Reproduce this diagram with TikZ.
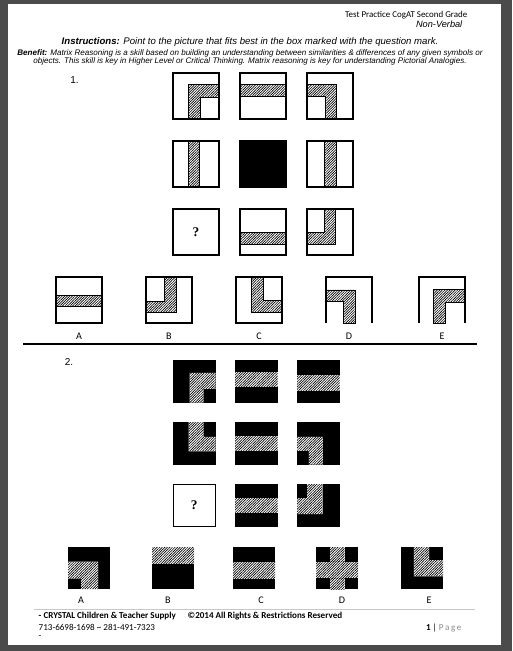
\documentclass[tikz,border=0pt]{standalone}
\usepackage{fontspec}
\setmainfont{Liberation Sans}
\newfontfamily\calibri{Carlito}
\newfontfamily\timesfont{Liberation Serif}
\usetikzlibrary{patterns.meta}
\definecolor{frame}{HTML}{4B4B4B}
\definecolor{rulegray}{HTML}{C8C8C8}
\definecolor{pagegray}{HTML}{8C8C8C}
\tikzset{
  cell/.style={draw=black,line width=0.85pt},
  hatch/.style={fill=white,postaction={pattern={Lines[angle=45,distance=1.35pt,line width=0.5pt]}}},
  hatchline/.style={hatch,draw=black,line width=0.6pt},
  optlabel/.style={font=\calibri\fontsize{7.6}{9}\selectfont},
  qmark/.style={font=\timesfont\bfseries\fontsize{10}{12}\selectfont},
  footnote/.style={anchor=west,font=\calibri\fontsize{6.8}{8}\selectfont},
}
\begin{document}
\begin{tikzpicture}[x=0.75pt,y=-0.75pt]
  \useasboundingbox (0,0) rectangle (512,651);
  \fill[frame] (0,0) rectangle (512,651);
  \fill[white] (8,4) rectangle (501,645);

  \node[anchor=east,font=\calibri\fontsize{6.7}{8}\selectfont] (header) at (472,15) {Test Practice CogAT Second Grade};
  \node[anchor=east,font=\itshape\fontsize{6.9}{8}\selectfont] (subject) at (467,24.5) {Non-Verbal};
  \node[font=\itshape\fontsize{7.2}{8}\selectfont] (instr) at (250,42) {\bfseries Instructions:\mdseries{} Point to the picture that fits best in the box marked with the question mark.};
  \node[align=center,font=\itshape\fontsize{6.05}{6}\selectfont] (benefit) at (250,57) {\bfseries Benefit:\mdseries{} Matrix Reasoning is a skill based on building an understanding between similarities \& differences of any given symbols or\\
    objects. This skill is key in Higher Level or Critical Thinking. Matrix reasoning is key for understanding Pictorial Analogies.};

  \node[font=\fontsize{7.5}{8}\selectfont] (num1) at (74.5,80) {1.};

  \begin{scope}[shift={(173,73)}]
    \draw[hatchline] (15.6,46) -- (15.6,11) -- (46,11) -- (46,24.4) -- (27.6,24.4) -- (27.6,46) -- cycle;
    \draw[cell] (0,0) rectangle (46,46);
  \end{scope}
  \begin{scope}[shift={(240,73)}]
    \draw[hatchline] (0,11.7) rectangle (46,23.5);
    \draw[cell] (0,0) rectangle (46,46);
  \end{scope}
  \begin{scope}[shift={(307,73)}]
    \draw[hatchline] (0,11.7) -- (29.4,11.7) -- (29.4,46) -- (18.4,46) -- (18.4,23.5) -- (0,23.5) -- cycle;
    \draw[cell] (0,0) rectangle (46,46);
  \end{scope}

  \begin{scope}[shift={(173,141)}]
    \draw[hatchline] (15.2,0) rectangle (26.7,46);
    \draw[cell] (0,0) rectangle (46,46);
  \end{scope}
  \begin{scope}[shift={(240,141)}]
    \draw[cell,fill=black] (0,0) rectangle (46,46);
  \end{scope}
  \begin{scope}[shift={(307,141)}]
    \draw[hatchline] (17.5,0) rectangle (29.4,46);
    \draw[cell] (0,0) rectangle (46,46);
  \end{scope}

  \begin{scope}[shift={(173,209)}]
    \draw[cell] (0,0) rectangle (46,46);
    \node[qmark] (ask1) at (23,23) {?};
  \end{scope}
  \begin{scope}[shift={(240,209)}]
    \draw[hatchline] (0,23.5) rectangle (46,35);
    \draw[cell] (0,0) rectangle (46,46);
  \end{scope}
  \begin{scope}[shift={(307,209)}]
    \draw[hatchline] (17,0) -- (28.7,0) -- (28.7,35) -- (0,35) -- (0,23.5) -- (17,23.5) -- cycle;
    \draw[cell] (0,0) rectangle (46,46);
  \end{scope}

  \begin{scope}[shift={(56,277)}]
    \draw[hatchline] (0,18.4) rectangle (46,29.4);
    \draw[cell] (0,0) rectangle (46,46);
  \end{scope}
  \begin{scope}[shift={(146,277)}]
    \draw[hatchline] (18,0) -- (30.4,0) -- (30.4,35.4) -- (0,35.4) -- (0,24.4) -- (18,24.4) -- cycle;
    \draw[cell] (0,0) rectangle (46,46);
  \end{scope}
  \begin{scope}[shift={(236,277)}]
    \draw[hatchline] (15.2,0) -- (27.6,0) -- (27.6,23.5) -- (46,23.5) -- (46,35) -- (15.2,35) -- cycle;
    \draw[cell] (0,0) rectangle (46,46);
  \end{scope}
  \begin{scope}[shift={(326,277)}]
    \draw[hatchline] (0,12.9) -- (29,12.9) -- (29,46) -- (17.5,46) -- (17.5,24.4) -- (0,24.4) -- cycle;
    \draw[cell] (0,46) -- (0,0) -- (46,0) -- (46,46);
  \end{scope}
  \begin{scope}[shift={(419,277)}]
    \draw[hatchline] (14.6,46) -- (14.6,12.7) -- (46,12.7) -- (46,25) -- (26.8,25) -- (26.8,46) -- cycle;
    \draw[cell] (0,46) -- (0,0) -- (46,0) -- (46,46);
  \end{scope}

  \node[optlabel] (a1) at (79,336) {A};
  \node[optlabel] (b1) at (169,336) {B};
  \node[optlabel] (c1) at (259,336) {C};
  \node[optlabel] (d1) at (349,336) {D};
  \node[optlabel] (e1) at (442,336) {E};

  \draw[line width=1.6pt] (23,344) -- (477,344);

  \node[font=\fontsize{7.5}{8}\selectfont] (num2) at (69,362) {2.};

  \begin{scope}[shift={(173,360)}]
    \fill[black] (0,0) rectangle (42.5,42.5);
    \fill[hatch] (16.6,42.5) -- (16.6,12.8) -- (42.5,12.8) -- (42.5,28.9) -- (30.6,28.9) -- (30.6,42.5) -- cycle;
  \end{scope}
  \begin{scope}[shift={(235,360)}]
    \fill[black] (0,0) rectangle (42.5,42.5);
    \fill[hatch] (0,11.9) rectangle (42.5,27.2);
  \end{scope}
  \begin{scope}[shift={(297,360)}]
    \fill[black] (0,0) rectangle (42.5,42.5);
    \fill[hatch] (0,14.5) rectangle (42.5,30.6);
  \end{scope}

  \begin{scope}[shift={(173,422)}]
    \fill[black] (0,0) rectangle (42.5,42.5);
    \fill[hatch] (15.7,0) -- (30.6,0) -- (30.6,14.9) -- (42.5,14.9) -- (42.5,29.3) -- (15.7,29.3) -- cycle;
  \end{scope}
  \begin{scope}[shift={(235,422)}]
    \fill[black] (0,0) rectangle (42.5,42.5);
    \fill[hatch] (0,14) rectangle (42.5,29.3);
  \end{scope}
  \begin{scope}[shift={(297,422)}]
    \fill[black] (0,0) rectangle (42.5,42.5);
    \fill[hatch] (0,14.9) -- (25.9,14.9) -- (25.9,42.5) -- (11.9,42.5) -- (11.9,28.9) -- (0,28.9) -- cycle;
  \end{scope}

  \begin{scope}[shift={(173,484)}]
    \draw[cell,line width=0.6pt] (0,0) rectangle (42.5,42.5);
    \node[qmark] (ask2) at (21.25,21.25) {?};
  \end{scope}
  \begin{scope}[shift={(235,484)}]
    \fill[black] (0,0) rectangle (42.5,42.5);
    \fill[hatch] (0,14) rectangle (42.5,28.9);
  \end{scope}
  \begin{scope}[shift={(297,484)}]
    \fill[black] (0,0) rectangle (42.5,42.5);
    \fill[hatch] (10.2,0) -- (25.5,0) -- (25.5,30.2) -- (0,30.2) -- (0,14) -- (10.2,14) -- cycle;
  \end{scope}

  \begin{scope}[shift={(68,547)}]
    \fill[black] (0,0) rectangle (42,42);
    \fill[hatch] (0,14.5) -- (30.2,14.5) -- (30.2,42) -- (13.2,42) -- (13.2,31.5) -- (0,31.5) -- cycle;
  \end{scope}
  \begin{scope}[shift={(152,547)}]
    \fill[black] (0,0) rectangle (42,42);
    \fill[hatch] (0,0) rectangle (42,16.6);
  \end{scope}
  \begin{scope}[shift={(233,547)}]
    \fill[black] (0,0) rectangle (42,42);
    \fill[hatch] (0,14.5) rectangle (42,31.9);
  \end{scope}
  \begin{scope}[shift={(316,547)}]
    \fill[black] (0,0) rectangle (42,42);
    \fill[hatch] (13.6,0) rectangle (28.5,42);
    \fill[hatch] (0,14.5) rectangle (42,31);
  \end{scope}
  \begin{scope}[shift={(401,547)}]
    \fill[black] (0,0) rectangle (42,42);
    \fill[hatch] (12.8,0) -- (28,0) -- (28,13.2) -- (42,13.2) -- (42,29.3) -- (12.8,29.3) -- cycle;
  \end{scope}

  \node[optlabel] (a2) at (81,600) {A};
  \node[optlabel] (b2) at (168,600) {B};
  \node[optlabel] (c2) at (261,600) {C};
  \node[optlabel] (d2) at (342,600) {D};
  \node[optlabel] (e2) at (429,600) {E};

  \draw[rulegray,line width=0.4pt] (34,609.5) -- (475,609.5);

  \node[footnote,font=\calibri\bfseries\fontsize{6.8}{8}\selectfont] (supply) at (34,616.5) {- CRYSTAL Children \& Teacher Supply};
  \node[footnote,font=\calibri\bfseries\fontsize{6.8}{8}\selectfont] (rights) at (183,616.5) {©2014 All Rights \& Restrictions Reserved};
  \node[footnote] (phone) at (34,627.5) {713-6698-1698 \textasciitilde{} 281-491-7323};
  \node[footnote] (dash) at (34,637) {-};
  \node[footnote,anchor=east] (pageno) at (466,627.5) {\textbf{1} | \textcolor{pagegray}{P\,a\,g\,e}};
\end{tikzpicture}
\end{document}
